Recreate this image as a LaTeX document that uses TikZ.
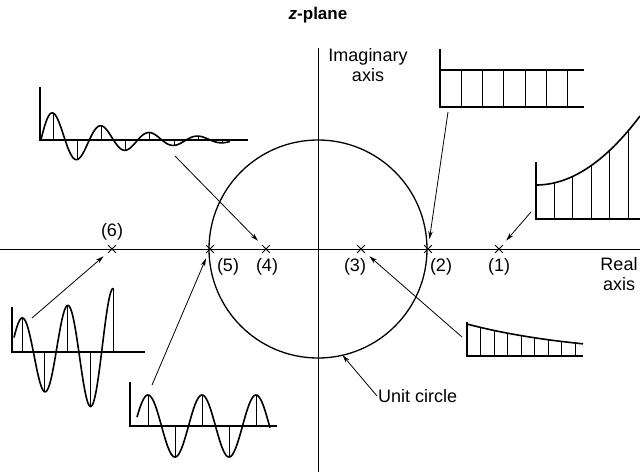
\documentclass[tikz,border=0pt]{standalone}
\usepackage{fontspec}
\setmainfont{Liberation Sans}
\usetikzlibrary{arrows.meta,shapes.misc}

\begin{document}
\begin{tikzpicture}[x=1pt,y=-1pt,font=\fontsize{18}{20}\selectfont,
  ax/.style={line width=1.1pt},
  wave/.style={line width=1.6pt},
  stem/.style={line width=0.9pt},
  xmark/.style={cross out,draw,minimum size=7pt,inner sep=0pt,line width=0.8pt},
  ptr/.style={line width=0.8pt,shorten >=6pt,-{Stealth[length=8pt,width=4.5pt]}},
  lbl/.style={inner sep=1pt}]
\useasboundingbox (0,0) rectangle (640,472);
\node[font=\fontsize{17}{18}\selectfont\rmfamily\bfseries] (title) at (318,15) {{\itshape z}-plane};
% axes and unit circle
\coordinate (o) at (318,249);
\draw[line width=0.8pt] (0,249) -- (640,249);
\draw[line width=0.8pt] (318,48) -- (318,472);
\draw[line width=1.3pt] (o) circle (109);
\path (o) ++(77:109) coordinate (c1);
\node[align=center,anchor=north,inner sep=0pt] (im) at (368,48) {Imaginary\\axis};
\node[align=center,anchor=north,inner sep=0pt] (re) at (619,257) {Real\\axis};
\node[anchor=west,inner sep=1pt] (uc) at (377,396) {Unit circle};
\draw[ptr,shorten >=0pt] (uc.west) -- (c1);
\foreach \i/\x in {1/499,2/428,3/361,4/266,5/210,6/112}
  \node[xmark] (p\i) at (\x,249) {};
\foreach \i/\x/\y in {1/499/267,2/441/267,3/355/267,4/267/267,5/228/267,6/112/232}
  \node[lbl] (l\i) at (\x,\y) {(\i)};
% (4) damped alternating
\draw[ax] (40,87) -- (40,140) -- (248,140);
\draw[wave,domain=41:230,samples=150] plot (\x,{140-27*exp(-0.0133*(\x-53))*cos((\x-53)/24.2*180)});
\foreach \n in {0,...,7}
  \draw[stem] ({53+24.2*\n},140) -- ({53+24.2*\n},{140-27*exp(-0.0133*24.2*\n)*cos(180*\n)});
% (2) constant
\draw[ax] (440,49) -- (440,107) -- (584,107);
\draw[wave] (440,70) -- (584,70);
\foreach \n in {1,...,6}
  \draw[stem] ({440+21.3*\n},70) -- ({440+21.3*\n},107);
% (1) growing
\draw[ax] (536,162) -- (536,219) -- (640,219);
\draw[wave,domain=536:640,samples=60] plot (\x,{185-0.00638*(\x-536)^2});
\foreach \n in {1,...,5}
  \draw[stem] ({536+18.4*\n},219) -- ({536+18.4*\n},{185-0.00638*(18.4*\n)^2});
% (3) decaying
\draw[ax] (467,322) -- (467,356) -- (583,356);
\draw[wave,domain=467:583,samples=60] plot (\x,{356-32*exp(-(\x-467)/120)});
\foreach \n in {1,...,8}
  \draw[stem] ({467+13.5*\n},356) -- ({467+13.5*\n},{356-32*exp(-13.5*\n/120)});
% (6) growing alternating
\draw[ax] (12,307) -- (12,352) -- (145,352);
\draw[wave,domain=14:113,samples=150] plot (\x,{352-34*exp(0.157*(\x-22)/22.75)*cos((\x-22)/22.75*180)});
\foreach \n in {0,...,4}
  \draw[stem] ({22+22.75*\n},352) -- ({22+22.75*\n},{352-34*exp(0.157*\n)*cos(180*\n)});
% (5) oscillating
\draw[ax] (130,382) -- (130,426) -- (277,426);
\draw[wave,domain=137:270,samples=150] plot (\x,{426-31*cos((\x-148)/54*360)});
\foreach \n in {0,...,4}
  \draw[stem] ({148+27*\n},426) -- ({148+27*\n},{426-31*cos(180*\n)});
% pointers
\coordinate (s4) at (175,156);
\coordinate (s2) at (448,112);
\coordinate (s1) at (531,212);
\coordinate (s3) at (462,337);
\coordinate (s5) at (152,385);
\coordinate (s6) at (32,318);
\foreach \i in {1,...,6}
  \draw[ptr] (s\i) -- (p\i);
\end{tikzpicture}
\end{document}
